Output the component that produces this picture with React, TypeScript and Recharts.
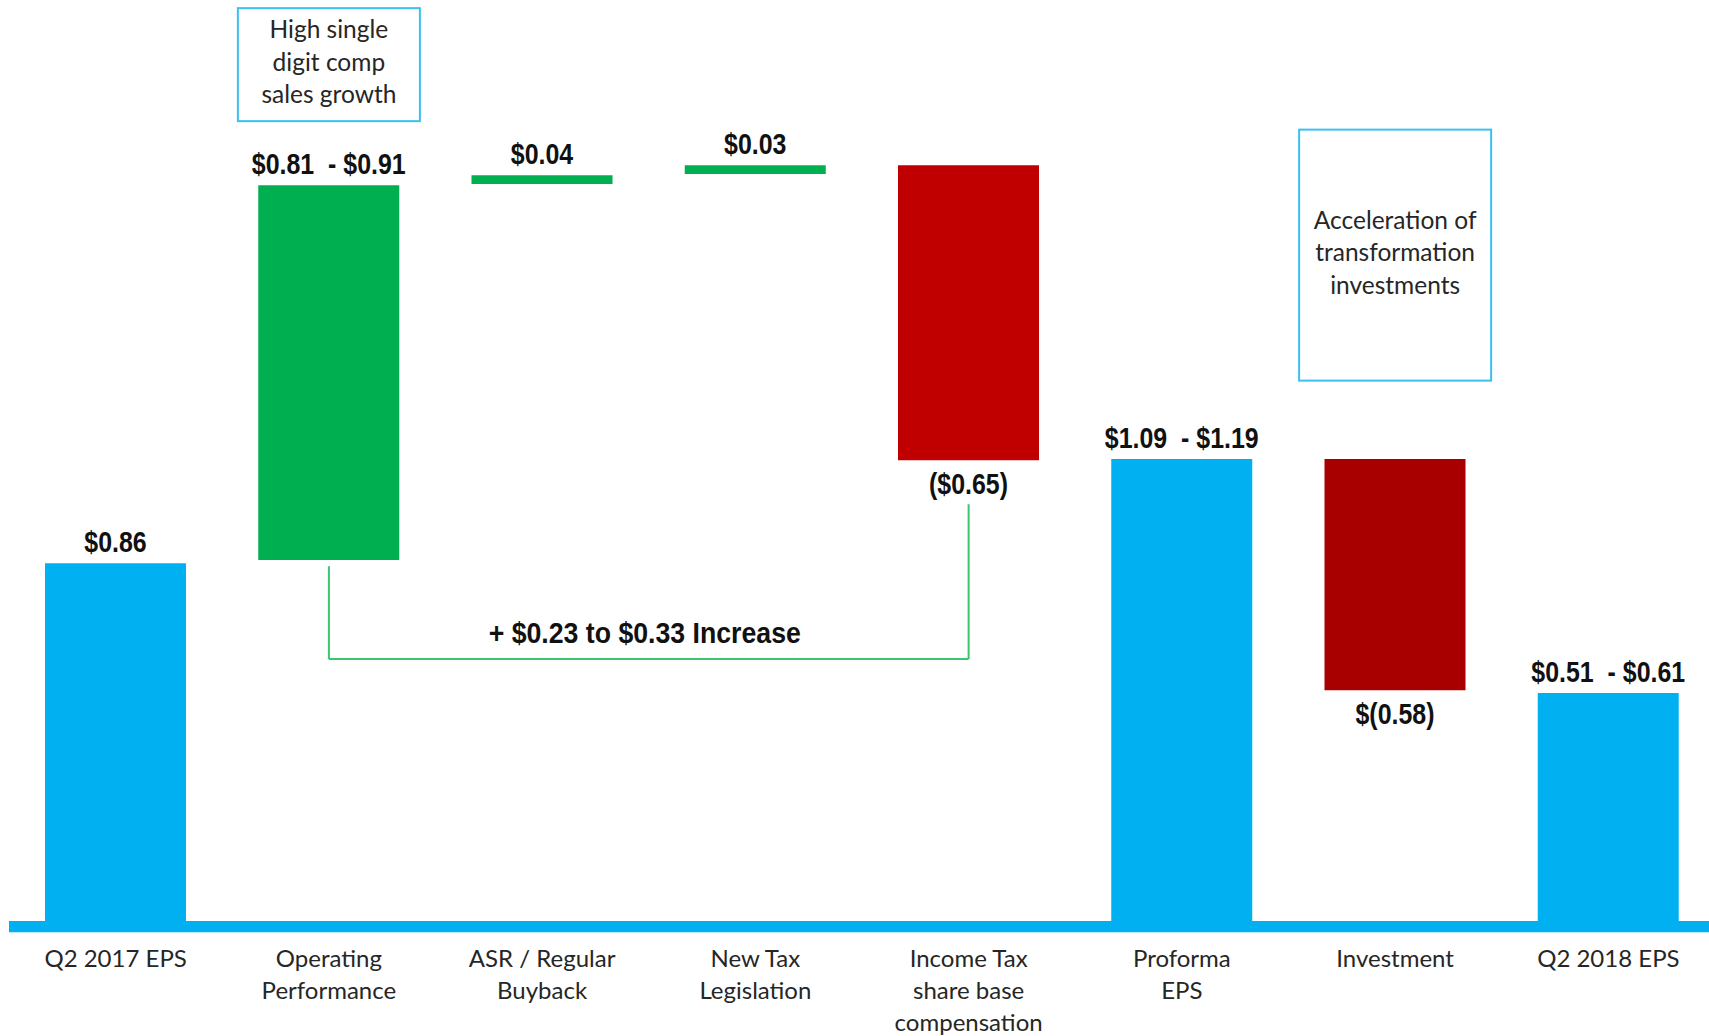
import React from 'react';
import {
  BarChart,
  Bar,
  XAxis,
  YAxis,
  Cell,
  LabelList,
  ReferenceArea,
  ReferenceLine,
  ReferenceDot,
} from 'recharts';

// ---- data ----
const categories = [
  'Q2 2017 EPS',
  'Operating Performance',
  'ASR / Regular Buyback',
  'New Tax Legislation',
  'Income Tax share base compensation',
  'Proforma EPS',
  'Investment',
  'Q2 2018 EPS',
];
const categoryLines = [
  ['Q2 2017 EPS'],
  ['Operating', 'Performance'],
  ['ASR / Regular', 'Buyback'],
  ['New Tax', 'Legislation'],
  ['Income Tax', 'share base', 'compensation'],
  ['Proforma', 'EPS'],
  ['Investment'],
  ['Q2 2018 EPS'],
];
// floating bar bottoms / tops as drawn in the picture (EPS scale)
const barLows = [0, 0.868, 1.772, 1.796, 1.108, 0, 0.555, 0];
const barHighs = [0.86, 1.769, 1.793, 1.817, 1.817, 1.111, 1.111, 0.548];
const valueLabels = [
  '$0.86',
  '$0.81  - $0.91',
  '$0.04',
  '$0.03',
  '($0.65)',
  '$1.09  - $1.19',
  '$(0.58)',
  '$0.51  - $0.61',
];
const labelBelow = [false, false, false, false, true, false, true, false];
const barColors = ['#00B0F0', '#00B050', '#00B050', '#00B050', '#C00000', '#00B0F0', '#A80000', '#00B0F0'];

const bracketFrom = 'Operating Performance';
const bracketTo = 'Income Tax share base compensation';
const bracketStartY = 0.853;
const bracketBottomY = 0.63;
const bracketEndY = 1.002;
const bracketLabel = '+ $0.23 to $0.33 Increase';

const noteCategories = ['Operating Performance', 'Investment'];
const noteY = [2.059, 1.601];
const noteLines = [
  ['High single', 'digit comp', 'sales growth'],
  ['Acceleration of', 'transformation', 'investments'],
];
const noteSizes = [
  [182, 113],
  [192, 251],
];

const data = categories.map((name, i) => ({ name, range: [barLows[i], barHighs[i]] }));

const LABEL_FONT = "'Liberation Sans', Arial, sans-serif";
const TEXT_FONT = "Lato, 'Open Sans', sans-serif";

const NarrowText = ({
  x,
  y,
  text,
  size,
  narrow,
}: {
  x: number;
  y: number;
  text: string;
  size: number;
  narrow: number;
}) => (
  <text
    transform={`translate(${x},${y}) scale(${narrow},1)`}
    x={0}
    y={0}
    textAnchor="middle"
    fill="#111"
    fontFamily={LABEL_FONT}
    fontWeight="bold"
    fontSize={size}
    style={{ whiteSpace: 'pre' }}
  >
    {text}
  </text>
);

const CategoryTick = (props: any) => {
  const { x, y, payload } = props;
  const idx = categories.indexOf(payload.value);
  const lines = categoryLines[idx] || [payload.value];
  return (
    <text x={x} y={y} textAnchor="middle" fill="#262626" fontFamily={TEXT_FONT} fontSize={24}>
      {lines.map((l, i) => (
        <tspan key={i} x={x} dy={i === 0 ? 46 : 32}>
          {l}
        </tspan>
      ))}
    </text>
  );
};

const ValueLabel = (props: any) => {
  const vb = props.viewBox || {};
  const x = props.x ?? vb.x;
  const y = props.y ?? vb.y;
  const width = props.width ?? vb.width;
  const height = props.height ?? vb.height;
  const index = props.index;
  if (x == null || y == null) return null;
  const top = Math.min(y, y + height);
  const bottom = Math.max(y, y + height);
  const cx = x + width / 2;
  const below = labelBelow[index];
  return (
    <NarrowText x={cx} y={below ? bottom + 34 : top - 11} text={valueLabels[index]} size={29} narrow={0.86} />
  );
};

const BracketLabel = (props: any) => {
  const vb = props.viewBox || {};
  let cx: number;
  let y: number;
  if (vb.x1 != null) {
    cx = (vb.x1 + vb.x2) / 2;
    y = Math.min(vb.y1, vb.y2);
  } else {
    cx = vb.x + (vb.width || 0) / 2;
    y = vb.y;
  }
  if (cx == null || isNaN(cx)) return null;
  return <NarrowText x={cx - 4} y={y - 16} text={bracketLabel} size={30} narrow={0.89} />;
};

const makeNote = (i: number) => (p: any) => {
  const { cx, cy } = p;
  const [w, h] = noteSizes[i];
  return (
    <g>
      <rect x={cx - w / 2} y={cy - h / 2} width={w} height={h} fill="#fff" stroke="#3CC0F0" strokeWidth={2} />
      <text textAnchor="middle" fill="#262626" fontFamily={TEXT_FONT} fontSize={24.5}>
        {noteLines[i].map((l, j) => (
          <tspan key={j} x={cx} y={cy + (j - 1) * 32.5 + 6}>
            {l}
          </tspan>
        ))}
      </text>
    </g>
  );
};

export default function App() {
  return (
    <div
      style={{
        position: 'absolute',
        left: 0,
        top: 0,
        width: 1709,
        height: 1036,
        overflow: 'hidden',
        background: '#fff',
      }}
    >
      <BarChart
        width={1715}
        height={1036}
        data={data}
        margin={{ top: 6, right: 0, bottom: 0, left: 9 }}
        barSize={141}
      >
        <XAxis
          dataKey="name"
          axisLine={false}
          tickLine={false}
          tickSize={0}
          tickMargin={0}
          height={115}
          interval={0}
          tick={<CategoryTick />}
        />
        <YAxis hide type="number" domain={[0, 2.2]} allowDataOverflow />
        <ReferenceArea y1={-0.027} y2={0} ifOverflow="visible" fill="#00B0F0" fillOpacity={1} stroke="none" />
        <ReferenceLine
          segment={[
            { x: bracketFrom, y: bracketStartY },
            { x: bracketFrom, y: bracketBottomY },
          ]}
          stroke="#3CC46E"
          strokeWidth={2}
          ifOverflow="visible"
        />
        <ReferenceLine
          segment={[
            { x: bracketFrom, y: bracketBottomY },
            { x: bracketTo, y: bracketBottomY },
          ]}
          stroke="#3CC46E"
          strokeWidth={2}
          ifOverflow="visible"
          label={<BracketLabel />}
        />
        <ReferenceLine
          segment={[
            { x: bracketTo, y: bracketBottomY },
            { x: bracketTo, y: bracketEndY },
          ]}
          stroke="#3CC46E"
          strokeWidth={2}
          ifOverflow="visible"
        />
        <Bar dataKey="range" isAnimationActive={false}>
          {data.map((d, i) => (
            <Cell key={d.name} fill={barColors[i]} />
          ))}
          <LabelList dataKey="range" content={<ValueLabel />} />
        </Bar>
        {noteCategories.map((c, i) => (
          <ReferenceDot key={c} x={c} y={noteY[i]} ifOverflow="visible" r={0} shape={makeNote(i)} />
        ))}
      </BarChart>
    </div>
  );
}
